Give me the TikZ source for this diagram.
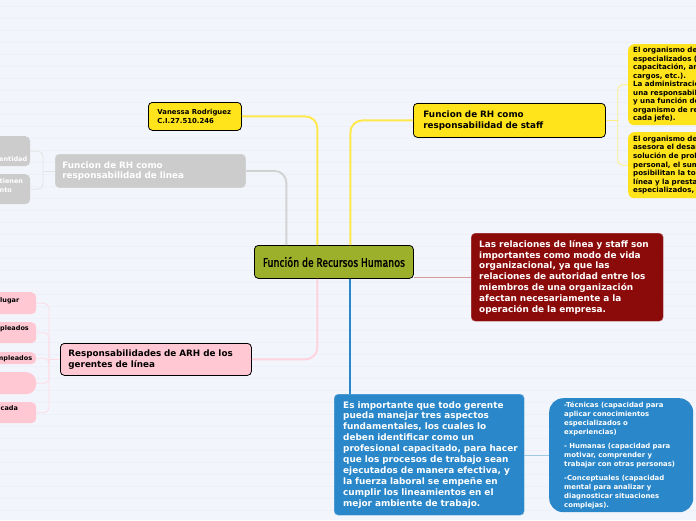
\documentclass[tikz,border=0pt]{standalone}
\usepackage{fontspec}
\setmainfont{DejaVu Sans}
\newfontfamily\titlefont[FakeStretch=0.82,FakeBold=1.2]{Fira Sans}
\usepackage{tikz}
\usetikzlibrary{positioning}

\definecolor{paper}{HTML}{F3F5FC}
\definecolor{stripe}{HTML}{EEF0F9}
\definecolor{olive}{HTML}{9CB02C}
\definecolor{sunny}{HTML}{FFE41C}
\definecolor{sunnyline}{HTML}{FFE84A}
\definecolor{greyfill}{HTML}{CCCCCC}
\definecolor{greyline}{HTML}{D2D2D2}
\definecolor{pinkfill}{HTML}{FFC8D3}
\definecolor{pinkline}{HTML}{FFD3DD}
\definecolor{crimson}{HTML}{8B0A0A}
\definecolor{redline}{HTML}{D99A9A}
\definecolor{ocean}{HTML}{2A87C9}

\begin{document}
\begin{tikzpicture}[x=1pt,y=-1pt,
  topic/.style={draw=black, line width=0.8pt, rounded corners=4pt, anchor=north west, inner ysep=0pt, align=left, font=\bfseries\fontsize{8.8}{10.8}\selectfont},
  note/.style={rounded corners=4pt, anchor=north west, inner ysep=0pt, align=left, text=white, font=\bfseries\fontsize{8.9}{10.9}\selectfont},
  tiny/.style={font=\bfseries\fontsize{6.9}{8.3}\selectfont},
  leaf/.style={rounded corners=5pt, anchor=north west, minimum width=56pt, inner sep=0pt},
  leaftext/.style={anchor=base west, inner sep=0pt, font=\bfseries\fontsize{6.5}{8}\selectfont},
  link/.style={line width=1.9pt, rounded corners=12pt},
  twig/.style={line width=0.8pt, rounded corners=5pt}]

\useasboundingbox (0,0) rectangle (696,520);
\clip (0,0) rectangle (696,520);
\fill[paper] (0,0) rectangle (696,520);
\foreach \y in {6,18,...,516}
  \draw[stripe, line width=0.6pt] (0,\y) -- (696,\y);

% central topic
\node[topic, fill=olive, minimum width=159pt, minimum height=33pt, align=center, font=\titlefont\fontsize{12.5}{14}\selectfont] (center) at (254,245) {Función de Recursos Humanos};

% main branches
\node[topic, fill=sunny, text width=75pt, inner xsep=9pt, minimum height=28pt, tiny] (vanessa) at (148,102) {Vanessa Rodriguez\\C.I.27.510.246};
\node[topic, fill=sunny, text width=172pt, inner xsep=10pt, minimum height=34pt] (staff) at (413,103) {Funcion de RH como\\responsabilidad de staff};
\node[topic, draw=greyline, fill=greyfill, text=white, text width=176pt, inner xsep=7pt, minimum height=33pt, font=\bfseries\fontsize{8.8}{10.5}\selectfont] (linea) at (55,154) {Funcion de RH como\\responsabilidad de linea};
\node[topic, fill=pinkfill, text width=175pt, inner xsep=8pt, minimum height=32pt, font=\bfseries\fontsize{8.8}{11.5}\selectfont] (gerentes) at (60,343) {Responsabilidades de ARH de los\\gerentes de línea};
\node[note, fill=crimson, draw=crimson!55!white, text width=176pt, inner xsep=8pt, minimum height=88pt] (relaciones) at (471,233) {\mbox{Las relaciones de línea y staff son}\\importantes como modo de vida\\organizacional, ya que las\\\mbox{relaciones de autoridad entre los}\\miembros de una organización\\afectan necesariamente a la\\operación de la empresa.};
\node[note, fill=ocean, draw=ocean!55!white, text width=172pt, inner xsep=9pt, minimum height=121pt] (aspectos) at (334,394) {\mbox{Es importante que todo gerente}\\pueda manejar tres aspectos\\fundamentales, los cuales lo\\deben identificar como un\\\mbox{profesional capacitado, para hacer}\\\mbox{que los procesos de trabajo sean}\\\mbox{ejecutados de manera efectiva, y}\\la fuerza laboral se empeñe en\\cumplir los lineamientos en el\\mejor ambiente de trabajo.};

% second level
\node[note, fill=ocean, rounded corners=14pt, text width=114pt, inner xsep=15pt, minimum height=114pt, font=\bfseries\fontsize{6.9}{9}\selectfont] (tipos) at (549,398) {\mbox{-Técnicas (capacidad para}\\aplicar conocimientos\\especializados o\\experiencias)\\[5pt]\mbox{- Humanas (capacidad para}\\motivar, comprender y\\\mbox{trabajar con otras personas)}\\[5pt]\mbox{-Conceptuales (capacidad}\\mental para analizar y\\diagnosticar situaciones\\complejas).};
\node[note, fill=sunny, text=black, rounded corners=6pt, text width=200pt, inner xsep=5pt, minimum height=81pt, font=\bfseries\fontsize{7.1}{8.5}\selectfont] (prestar) at (628,44) {El organismo de staff presta\\especializados (reclutamiento,\\capacitación, análisis y evaluación de\\cargos, etc.).\\La administración de RH es\\una responsabilidad de línea\\y una función de staff (asesoría\\organismo de recursos humanos para\\cada jefe).};
\node[note, fill=sunny, text=black, rounded corners=6pt, text width=200pt, inner xsep=5pt, minimum height=66pt, font=\bfseries\fontsize{7.1}{8.6}\selectfont] (asesorar) at (628,132) {El organismo de staff\\asesora el desarrollo de\\solución de problemas\\personal, el suministro\\posibilitan la toma de\\línea y la prestación\\especializados, etc.};

\node[leaf, fill=greyfill, minimum width=50pt, minimum height=30pt] (identidad) at (-20,136) {};
\node[leaf, fill=greyfill, minimum width=50pt, minimum height=30pt] (tienen) at (-20,174) {};
\node[leaftext, text=white] (identidadtxt) at (-1,161.5) {entidad};
\node[leaftext, text=white] (tienentxt) at (-0.5,183.5) {tienen};
\node[leaftext, text=white] (ntotxt) at (-0.5,192.5) {nto};

\node[leaf, fill=pinkfill, minimum height=22pt] (lugar) at (-20,292) {};
\node[leaf, fill=pinkfill, minimum height=21pt] (empleados) at (-20,322) {};
\node[leaf, fill=pinkfill, minimum height=12pt] (otros) at (-20,352) {};
\node[leaf, fill=pinkfill, minimum height=22pt, rounded corners=10pt] (vacio) at (-20,372) {};
\node[leaf, fill=pinkfill, minimum height=21pt] (cada) at (-20,402) {};
\node[leaftext] (lugartxt) at (0,302.5) {lugar};
\node[leaftext] (empleadostxt) at (0,330.5) {pleados};
\node[leaftext] (otrostxt) at (-3.5,360.5) {mpleados};
\node[leaftext] (cadatxt) at (0.5,410.5) {cada};

% connectors
\draw[link, sunnyline] ([xshift=16.5pt]center.north) |- (staff.west);
\draw[link, sunnyline] ([xshift=-16.5pt]center.north) |- (vanessa.east);
\draw[link, greyline] ([xshift=-47.5pt]center.north) |- (linea.east);
\draw[link, pinkline] ([xshift=-16.5pt]center.south) |- (gerentes.east);
\draw[link, ocean] ([xshift=16.5pt]center.south) -- ([xshift=16.5pt]center.south |- aspectos.north);
\draw[line width=0.8pt, redline] (center.east |- relaciones.west) -- (relaciones.west);
\draw[line width=0.6pt, ocean!45!white] (aspectos.east |- tipos.west) -- (tipos.west);

\draw[twig, sunnyline!70!white] (staff.east) -- ++(12,0) coordinate (staffhub);
\draw[twig, sunnyline!70!white] (staffhub) |- (prestar.west);
\draw[twig, sunnyline!70!white] (staffhub) |- (asesorar.west);

\draw[twig, greyline!60!white] (linea.west) -- ++(-12,0) coordinate (lineahub);
\foreach \leaf in {identidad,tienen}
  \draw[twig, greyline!60!white] (lineahub) |- (\leaf.east);

\draw[twig, pinkline!80!white] (gerentes.west) -- ++(-11,0) coordinate (gerenteshub);
\foreach \leaf in {lugar,empleados,otros,vacio,cada}
  \draw[twig, pinkline!80!white] (gerenteshub) |- (\leaf.east);

\end{tikzpicture}
\end{document}
